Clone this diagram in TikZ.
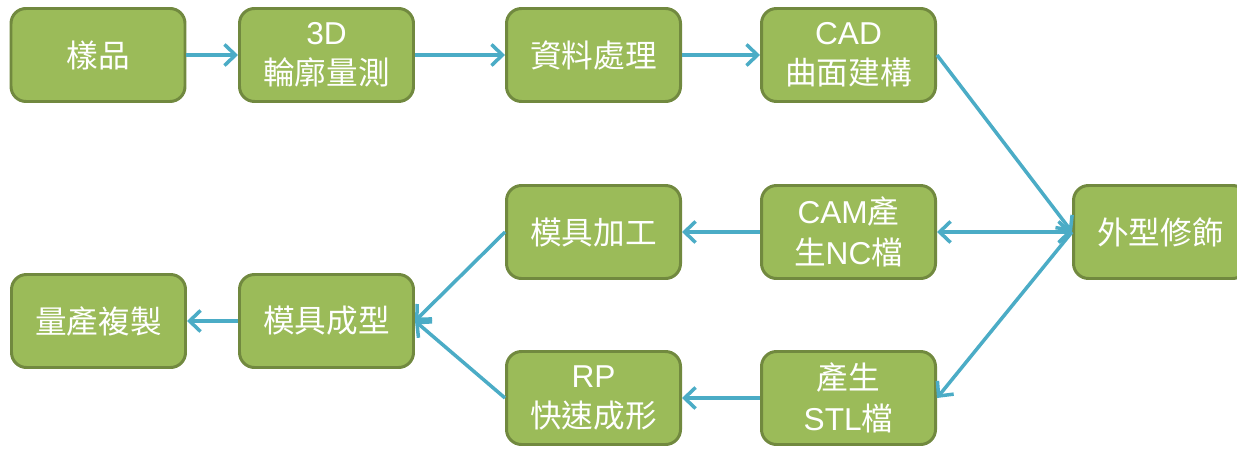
\documentclass[tikz,border=0pt]{standalone}
\usepackage{fontspec}
\setmainfont{Liberation Sans}
\newfontfamily\cjk{Noto Sans CJK TC}
\newcommand{\zh}[1]{{\cjk #1}}
\usepackage{xcolor}
\definecolor{vertBox}{RGB}{155,187,89}
\definecolor{vertBord}{RGB}{113,137,63}
\definecolor{bleuFleche}{RGB}{75,172,198}
\usetikzlibrary{arrows.meta}

\begin{document}
\begin{tikzpicture}[
    box/.style={draw=vertBord,fill=vertBox,line width=1.7pt,rounded corners=0.3cm,
                minimum width=3.48cm,minimum height=1.86cm,align=center,text=white,
                font=\fontsize{18}{23}\selectfont},
    flow/.style={-{Straight Barb[length=2.2mm,width=4.2mm]},draw=bleuFleche,line width=2pt},
    both/.style={{Straight Barb[length=2.2mm,width=4.2mm]}-{Straight Barb[length=2.2mm,width=4.2mm]},
                 draw=bleuFleche,line width=2pt},
  ]
    \clip (0,0) rectangle (24.74,-8.98);

    % Top row
    \node[box] (sample)  at (1.96,-1.10)  {\zh{樣品}};
    \node[box] (measure) at (6.53,-1.10)  {3D\\\zh{輪廓量測}};
    \node[box] (data)    at (11.87,-1.10) {\zh{資料處理}};
    \node[box] (cad)     at (16.97,-1.10) {CAD\\\zh{曲面建構}};

    % Right
    \node[box] (finish)  at (23.21,-4.64) {\zh{外型修飾}};

    % Middle / bottom rows
    \node[box] (cam)      at (16.97,-4.64) {CAM\zh{產}\\\zh{生}NC\zh{檔}};
    \node[box] (mold)     at (11.87,-4.64) {\zh{模具加工}};
    \node[box] (moldform) at (6.53,-6.42)  {\zh{模具成型}};
    \node[box] (mass)     at (1.97,-6.42)  {\zh{量產複製}};
    \node[box] (rp)       at (11.87,-7.96) {RP\\\zh{快速成形}};
    \node[box] (stl)      at (16.97,-7.96) {\zh{產生}\\STL\zh{檔}};

    % Arrows
    \draw[flow] (sample) -- (measure);
    \draw[flow] (measure) -- (data);
    \draw[flow] (data) -- (cad);
    \draw[flow] (cad.east) -- (finish.west);
    \draw[both] (cam.east) -- (finish.west);
    \draw[flow] (finish.west) -- (stl.east);
    \draw[flow] (cam) -- (mold);
    \draw[flow] (stl) -- (rp);
    \draw[flow] (mold.west) -- (moldform.east);
    \draw[flow] (rp.west) -- (moldform.east);
    \draw[flow] (moldform) -- (mass);

  \end{tikzpicture}
\end{document}
